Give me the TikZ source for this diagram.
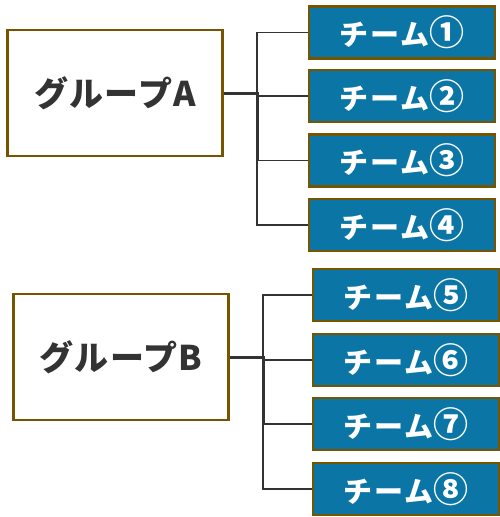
\documentclass[tikz,border=0pt]{standalone}
\usepackage{fontspec}
\newfontfamily\jpfont{Noto Sans CJK JP}
\definecolor{boxbrown}{HTML}{775500}
\definecolor{teamblue}{HTML}{0B76A6}
\definecolor{textgray}{HTML}{333333}
\definecolor{linegray}{HTML}{333333}
\newcommand{\teamname}[1]{チーム{\fontsize{35}{35}\selectfont #1}}
\tikzset{
	grp/.style={draw=boxbrown,line width=2.5pt,fill=white,inner sep=0pt,
		minimum width=215pt,minimum height=126pt,text=textgray,
		font=\jpfont\bfseries\fontsize{34}{34}\selectfont\addfontfeature{LetterSpace=4}},
	team/.style={draw=boxbrown,line width=2.5pt,fill=teamblue,inner sep=0pt,
		minimum width=186pt,minimum height=52pt,text=white,
		font=\jpfont\bfseries\fontsize{29}{29}\selectfont\addfontfeature{LetterSpace=5}},
	link/.style={draw=linegray,line width=1.4pt},
	trunk/.style={draw=linegray,line width=3pt}
}
\begin{document}
\begin{tikzpicture}[x=1pt,y=-1pt]
	\useasboundingbox (0,0) rectangle (500,517);
	% group A
	\node[grp] (ga) at (115,93) {グループA};
	\node[team] (ta1) at (402,32.5) {\teamname{①}};
	\node[team] (ta2) at (402,96) {\teamname{②}};
	\node[team] (ta3) at (402,160.5) {\teamname{③}};
	\node[team] (ta4) at (402,225) {\teamname{④}};
	\coordinate (ja) at (257,93);
	\foreach \i in {1,...,4}
		\draw[link] (ja) |- (ta\i.west);
	\draw[trunk] (ga.east) -- (ja) -- (ja |- ta3.west);
	% group B
	\node[grp] (gb) at (121,357) {グループB};
	\node[team] (tb5) at (406,295) {\teamname{⑤}};
	\node[team] (tb6) at (406,360) {\teamname{⑥}};
	\node[team] (tb7) at (406,424) {\teamname{⑦}};
	\node[team] (tb8) at (406,489) {\teamname{⑧}};
	\coordinate (jb) at (263,357);
	\foreach \i in {5,...,8}
		\draw[link] (jb) |- (tb\i.west);
	\draw[trunk] (gb.east) -- (jb) -- (jb |- tb7.west);
\end{tikzpicture}
\end{document}
